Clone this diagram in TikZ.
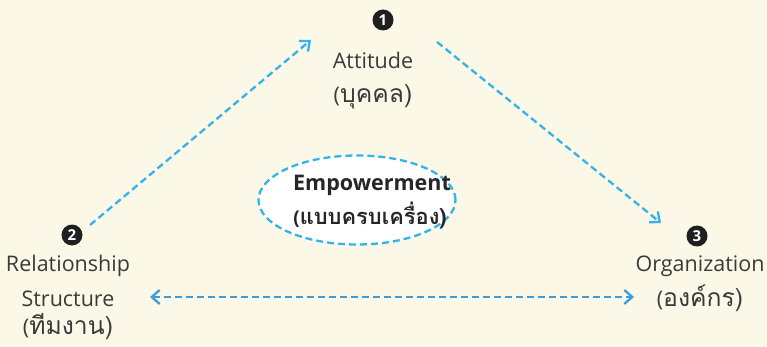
\documentclass[tikz,border=0pt]{standalone}
\usepackage{fontspec}
\setmainfont{Open Sans}
\newfontfamily\thaifont[Script=Thai,Scale=1.15]{Loma}
\usetikzlibrary{arrows.meta,shapes.geometric}
\definecolor{bgcream}{HTML}{FCF8E8}
\definecolor{linecyan}{HTML}{33B3E9}
\definecolor{lineblue}{HTML}{3F9BD8}
\definecolor{txtgray}{HTML}{3A3A3A}
\tikzset{
  label/.style={text=txtgray, font=\fontsize{21.5}{25}\selectfont, inner sep=0pt},
  badge/.style={circle, fill=black!88, text=white, minimum size=21pt, inner sep=0pt, font=\bfseries\fontsize{15}{15}\selectfont},
  dasharrow/.style={line width=2.3pt, dash pattern=on 7pt off 4pt, -{Straight Barb[length=8pt,width=14pt,line width=2.3pt]}},
}
\begin{document}
\begin{tikzpicture}[x=1pt, y=-1pt]
  \useasboundingbox[fill=bgcream] (0,0) rectangle (767,347);

  % corner nodes
  \node[badge] (n1) at (383,20) {1};
  \node[label] (att) at (373,60) {Attitude};
  \node[label] (attth) at (373,97) {(\thaifont บุคคล)};

  \node[badge] (n2) at (72,235) {2};
  \node[label] (rel) at (68,266) {Relationship};
  \node[label] (str) at (68,299) {Structure};
  \node[label] (strth) at (68,327) {(\thaifont ทีมงาน)};

  \node[badge] (n3) at (697,236) {3};
  \node[label] (org) at (700,266) {Organization};
  \node[label] (orgth) at (700,298) {(\thaifont องค์กร)};

  % centre ellipse
  \node[ellipse, draw=linecyan, fill=white, line width=2.3pt, dash pattern=on 7pt off 4pt,
        minimum width=197pt, minimum height=89pt] (emp) at (357,200) {};
  \node[label, font=\bfseries\fontsize{21.5}{25}\selectfont, text=black!85] (empen) at (372,185) {Empowerment};
  \node[label, font=\bfseries\fontsize{19}{23}\selectfont, text=black!85] (empth) at (370,216) {(\thaifont\bfseries แบบครบเครื่อง)};

  % arrow ends
  \coordinate (a1s) at (90,225);
  \coordinate (a1e) at (311,40);
  \coordinate (a2s) at (437,42);
  \coordinate (a2e) at (661,223);
  \coordinate (a3s) at (150,297);
  \coordinate (a3e) at (634,297);

  \draw[dasharrow, linecyan] (a1s) -- (a1e);
  \draw[dasharrow, linecyan] (a2s) -- (a2e);
  \draw[dasharrow, lineblue, {Straight Barb[length=8pt,width=14pt,line width=2.3pt]}-{Straight Barb[length=8pt,width=14pt,line width=2.3pt]}] (a3s) -- (a3e);
\end{tikzpicture}
\end{document}
